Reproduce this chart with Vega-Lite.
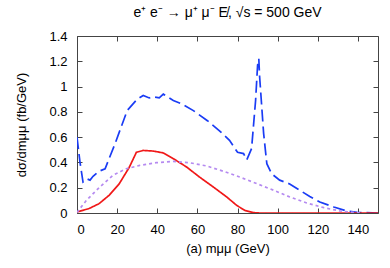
{
  "$schema": "https://vega.github.io/schema/vega-lite/v6.json",
  "autosize": {"type": "none"},
  "width": 301,
  "height": 177,
  "padding": {"left": 77, "top": 36, "right": 12, "bottom": 55},
  "title": {"text": "e⁺ e⁻ → μ⁺ μ⁻ E̸, √s = 500 GeV", "font": "Liberation Sans", "fontSize": 14, "fontWeight": "normal", "offset": 10, "anchor": "middle"},
  "config": {
    "view": {"stroke": "#444", "strokeWidth": 1},
    "axis": {"labelFont": "Liberation Sans", "titleFont": "Liberation Sans", "labelFontSize": 13, "titleFontSize": 13, "titleFontWeight": "normal", "grid": false, "domain": false, "tickColor": "#444", "labelColor": "#000", "titleColor": "#000"}
  },
  "data": {"values": [
    {"s": "blue", "x": 0, "y": 0.60},
    {"s": "blue", "x": 1.5, "y": 0.40},
    {"s": "blue", "x": 3, "y": 0.245},
    {"s": "blue", "x": 5, "y": 0.27},
    {"s": "blue", "x": 6.5, "y": 0.26},
    {"s": "blue", "x": 8, "y": 0.29},
    {"s": "blue", "x": 11, "y": 0.33},
    {"s": "blue", "x": 14, "y": 0.35},
    {"s": "blue", "x": 19, "y": 0.55},
    {"s": "blue", "x": 25, "y": 0.81},
    {"s": "blue", "x": 30, "y": 0.90},
    {"s": "blue", "x": 33, "y": 0.93},
    {"s": "blue", "x": 36, "y": 0.91},
    {"s": "blue", "x": 38, "y": 0.92},
    {"s": "blue", "x": 41, "y": 0.91},
    {"s": "blue", "x": 43, "y": 0.94},
    {"s": "blue", "x": 48, "y": 0.89},
    {"s": "blue", "x": 52, "y": 0.865},
    {"s": "blue", "x": 58, "y": 0.81},
    {"s": "blue", "x": 65, "y": 0.73},
    {"s": "blue", "x": 71, "y": 0.65},
    {"s": "blue", "x": 76, "y": 0.575},
    {"s": "blue", "x": 80, "y": 0.48},
    {"s": "blue", "x": 83, "y": 0.47},
    {"s": "blue", "x": 84.6, "y": 0.42},
    {"s": "blue", "x": 87, "y": 0.51},
    {"s": "blue", "x": 89, "y": 0.89},
    {"s": "blue", "x": 90, "y": 1.17},
    {"s": "blue", "x": 90.6, "y": 1.22},
    {"s": "blue", "x": 91, "y": 1.08},
    {"s": "blue", "x": 93, "y": 0.63},
    {"s": "blue", "x": 94.6, "y": 0.39},
    {"s": "blue", "x": 97, "y": 0.31},
    {"s": "blue", "x": 101, "y": 0.26},
    {"s": "blue", "x": 106, "y": 0.23},
    {"s": "blue", "x": 111, "y": 0.18},
    {"s": "blue", "x": 116, "y": 0.13},
    {"s": "blue", "x": 121, "y": 0.087},
    {"s": "blue", "x": 128, "y": 0.047},
    {"s": "blue", "x": 134.5, "y": 0.016},
    {"s": "blue", "x": 139.5, "y": 0.005},
    {"s": "blue", "x": 150, "y": 0},
    {"s": "red", "x": 0, "y": 0.008},
    {"s": "red", "x": 6, "y": 0.035},
    {"s": "red", "x": 11, "y": 0.074},
    {"s": "red", "x": 16, "y": 0.14},
    {"s": "red", "x": 21, "y": 0.23},
    {"s": "red", "x": 26, "y": 0.36},
    {"s": "red", "x": 29.6, "y": 0.48},
    {"s": "red", "x": 33, "y": 0.495},
    {"s": "red", "x": 38, "y": 0.49},
    {"s": "red", "x": 43, "y": 0.475},
    {"s": "red", "x": 48, "y": 0.43},
    {"s": "red", "x": 54.6, "y": 0.364},
    {"s": "red", "x": 61, "y": 0.285},
    {"s": "red", "x": 68, "y": 0.205},
    {"s": "red", "x": 74.6, "y": 0.127},
    {"s": "red", "x": 79.6, "y": 0.06},
    {"s": "red", "x": 83.7, "y": 0.02},
    {"s": "red", "x": 88, "y": 0.003},
    {"s": "red", "x": 91, "y": 0},
    {"s": "red", "x": 150, "y": 0},
    {"s": "purple", "x": 0, "y": 0.005},
    {"s": "purple", "x": 4.7, "y": 0.10},
    {"s": "purple", "x": 11.3, "y": 0.205},
    {"s": "purple", "x": 18, "y": 0.30},
    {"s": "purple", "x": 24.6, "y": 0.35},
    {"s": "purple", "x": 31.3, "y": 0.377},
    {"s": "purple", "x": 39.6, "y": 0.398},
    {"s": "purple", "x": 48, "y": 0.408},
    {"s": "purple", "x": 56, "y": 0.398},
    {"s": "purple", "x": 64.6, "y": 0.372},
    {"s": "purple", "x": 73, "y": 0.33},
    {"s": "purple", "x": 81, "y": 0.285},
    {"s": "purple", "x": 89.6, "y": 0.232},
    {"s": "purple", "x": 98, "y": 0.18},
    {"s": "purple", "x": 106, "y": 0.127},
    {"s": "purple", "x": 114.5, "y": 0.079},
    {"s": "purple", "x": 123, "y": 0.042},
    {"s": "purple", "x": 131, "y": 0.016},
    {"s": "purple", "x": 138, "y": 0.005},
    {"s": "purple", "x": 141, "y": 0}
  ]},
  "layer": [
    {
      "mark": {"type": "line", "clip": true},
      "encoding": {
        "x": {"field": "x", "type": "quantitative", "scale": {"domain": [0, 150], "nice": false}, "axis": {"values": [0, 20, 40, 60, 80, 100, 120, 140], "tickSize": -5, "labelPadding": 15, "title": "(a) mμμ (GeV)", "titlePadding": 6}},
        "y": {"field": "y", "type": "quantitative", "scale": {"domain": [0, 1.4], "nice": false}, "axis": {"values": [0, 0.2, 0.4, 0.6, 0.8, 1, 1.2, 1.4], "format": "~g", "tickSize": -5, "labelPadding": 15, "title": "dσ/dmμμ (fb/GeV)", "titlePadding": 20}},
        "color": {"field": "s", "type": "nominal", "scale": {"domain": ["blue", "red", "purple"], "range": ["#1a3cf5", "#f01818", "#b58af0"]}, "legend": null},
        "strokeDash": {"field": "s", "type": "nominal", "scale": {"domain": ["blue", "red", "purple"], "range": [[12, 5], [1, 0], [3, 3]]}, "legend": null},
        "strokeWidth": {"field": "s", "type": "nominal", "scale": {"domain": ["blue", "red", "purple"], "range": [1.7, 1.7, 2.2]}, "legend": null},
        "order": {"field": "x", "type": "quantitative"}
      }
    },
    {
      "mark": {"type": "line", "opacity": 0},
      "encoding": {
        "x": {"field": "x", "type": "quantitative", "scale": {"domain": [0, 150], "nice": false}, "axis": {"orient": "top", "values": [0, 20, 40, 60, 80, 100, 120, 140], "tickSize": -5, "labels": false, "title": null}},
        "y": {"field": "y", "type": "quantitative", "scale": {"domain": [0, 1.4], "nice": false}, "axis": {"orient": "right", "values": [0, 0.2, 0.4, 0.6, 0.8, 1, 1.2, 1.4], "tickSize": -5, "labels": false, "title": null}},
        "detail": {"field": "s"}
      }
    }
  ],
  "resolve": {"axis": {"x": "independent", "y": "independent"}}
}
